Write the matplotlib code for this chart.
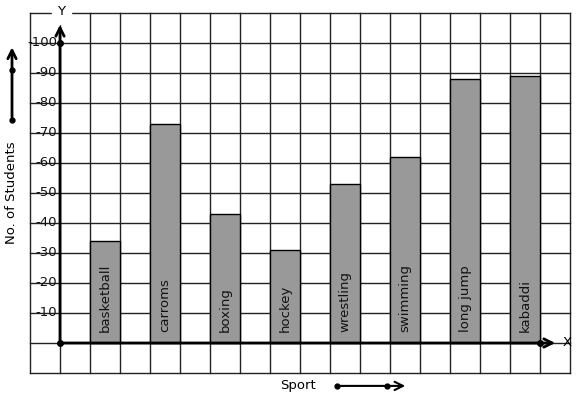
import numpy as np
import matplotlib.pyplot as plt

# data
sports = ['basketball', 'carroms', 'boxing', 'hockey', 'wrestling',
          'swimming', 'long jump', 'kabaddi']
students = [34, 73, 43, 31, 53, 62, 88, 89]
yticks = [10, 20, 30, 40, 50, 60, 70, 80, 90, 100]

W, H = 577, 399
fig = plt.figure(figsize=(W / 100, H / 100), dpi=100)
ax = fig.add_axes([0, 0, 1, 1])
# 1 x-unit = 30 px (one grid cell), 10 y-units = 30 px; origin at px (60, 343)
ax.set_xlim(-60 / 30, (W - 60) / 30)
ax.set_ylim(-(H - 343) / 3, 343 / 3)
ax.axis('off')

# grid
for gx in range(-1, 18):
    ax.plot([gx, gx], [-10, 110], color='#222222', lw=1, zorder=1)
for gy in range(-10, 111, 10):
    ax.plot([-1, 17], [gy, gy], color='#222222', lw=1, zorder=1)

# bars
xs = np.arange(len(sports)) * 2 + 1.5
ax.bar(xs, students, width=1, color='#999999', edgecolor='black', lw=1, zorder=2)
for x, name in zip(xs, sports):
    ax.text(x, 3.5, name, rotation=90, ha='center', va='bottom',
            fontsize=9.5, color='#111111', zorder=3)

# tick labels
for v in yticks:
    ax.text(-0.1, v, '-' + str(v), ha='right', va='center', fontsize=9.5,
            color='#111111', zorder=3)

# axes with arrows
ax.annotate('', xy=(0, 107), xytext=(0, 0),
            arrowprops=dict(arrowstyle='->', lw=2, color='black',
                            mutation_scale=15), zorder=4)
ax.annotate('', xy=(16.6, 0), xytext=(0, 0),
            arrowprops=dict(arrowstyle='->', lw=2, color='black',
                            mutation_scale=15), zorder=4)
ax.plot([0, 0, 16], [0, 100, 0], 'o', color='black', ms=4, zorder=5)
ax.text(0.05, 110.5, 'Y', ha='center', va='center', fontsize=9.5,
        backgroundcolor='white', zorder=5)
ax.text(16.9, 0.3, 'X', ha='center', va='center', fontsize=9.5, zorder=5)

# axis titles
ax.text(-1.6, 50, 'No. of Students', rotation=90, ha='center', va='center',
        fontsize=9.5)
ax.annotate('', xy=(-1.6, 99.5), xytext=(-1.6, 74.3),
            arrowprops=dict(arrowstyle='->', lw=2, color='black',
                            mutation_scale=15))
ax.plot([-1.6, -1.6], [74.3, 91], 'o', color='black', ms=3.5)

ax.text(7.93, -14, 'Sport', ha='center', va='center', fontsize=9.5)
ax.annotate('', xy=(11.6, -14.3), xytext=(9.23, -14.3),
            arrowprops=dict(arrowstyle='->', lw=1.5, color='black',
                            mutation_scale=15))
ax.plot([9.23, 10.9], [-14.3, -14.3], 'o', color='black', ms=3.5)

fig.savefig('out.png', dpi=100)
